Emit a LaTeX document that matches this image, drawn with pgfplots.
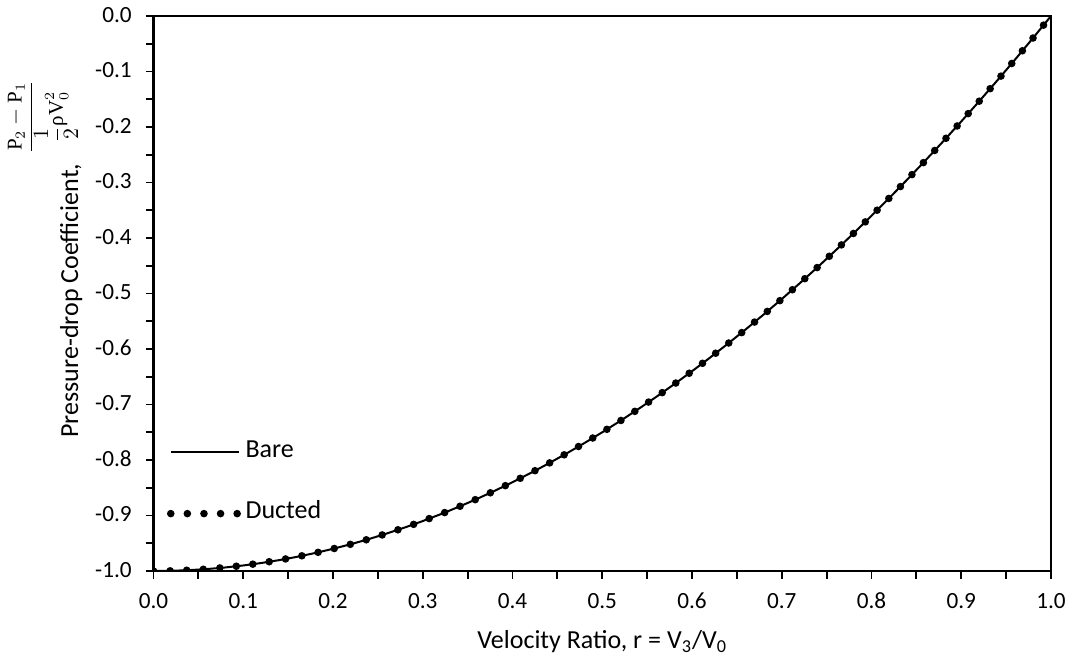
\documentclass[border=0pt]{standalone}
\usepackage{fontspec}
\setmainfont{Carlito}
\newfontfamily\eqfont{Liberation Serif}
\usepackage{amsmath}
\usepackage{pgfplots}
\pgfplotsset{compat=1.18}

% Pressure-drop coefficient against velocity ratio r = V3/V0
\pgfplotstableread{
r cp
0.00 -1.0000
0.02 -0.9996
0.04 -0.9984
0.06 -0.9964
0.08 -0.9936
0.10 -0.9900
0.12 -0.9856
0.14 -0.9804
0.16 -0.9744
0.18 -0.9676
0.20 -0.9600
0.22 -0.9516
0.24 -0.9424
0.26 -0.9324
0.28 -0.9216
0.30 -0.9100
0.32 -0.8976
0.34 -0.8844
0.36 -0.8704
0.38 -0.8556
0.40 -0.8400
0.42 -0.8236
0.44 -0.8064
0.46 -0.7884
0.48 -0.7696
0.50 -0.7500
0.52 -0.7296
0.54 -0.7084
0.56 -0.6864
0.58 -0.6636
0.60 -0.6400
0.62 -0.6156
0.64 -0.5904
0.66 -0.5644
0.68 -0.5376
0.70 -0.5100
0.72 -0.4816
0.74 -0.4524
0.76 -0.4224
0.78 -0.3916
0.80 -0.3600
0.82 -0.3276
0.84 -0.2944
0.86 -0.2604
0.88 -0.2256
0.90 -0.1900
0.92 -0.1536
0.94 -0.1164
0.96 -0.0784
0.98 -0.0396
1.00 0.0000
}\baredata

\pgfplotstableread{
r cp
0.00 -1.0000
0.02 -0.9996
0.04 -0.9984
0.06 -0.9964
0.08 -0.9936
0.10 -0.9900
0.12 -0.9856
0.14 -0.9804
0.16 -0.9744
0.18 -0.9676
0.20 -0.9600
0.22 -0.9516
0.24 -0.9424
0.26 -0.9324
0.28 -0.9216
0.30 -0.9100
0.32 -0.8976
0.34 -0.8844
0.36 -0.8704
0.38 -0.8556
0.40 -0.8400
0.42 -0.8236
0.44 -0.8064
0.46 -0.7884
0.48 -0.7696
0.50 -0.7500
0.52 -0.7296
0.54 -0.7084
0.56 -0.6864
0.58 -0.6636
0.60 -0.6400
0.62 -0.6156
0.64 -0.5904
0.66 -0.5644
0.68 -0.5376
0.70 -0.5100
0.72 -0.4816
0.74 -0.4524
0.76 -0.4224
0.78 -0.3916
0.80 -0.3600
0.82 -0.3276
0.84 -0.2944
0.86 -0.2604
0.88 -0.2256
0.90 -0.1900
0.92 -0.1536
0.94 -0.1164
0.96 -0.0784
0.98 -0.0396
1.00 0.0000
}\ducteddata

\tikzset{
  bare/.style={line width=1pt, black},
  ducted/.style={line width=3.8pt, black, line cap=round, dash pattern=on 0pt off 8.3pt},
}
\newcommand{\eq}[1]{\text{\eqfont #1}}
% the pressure-drop fraction, set so that its foot rests on the baseline
\newcommand{\cpfrac}{{\fontsize{10.5}{12.6}\selectfont
  \raisebox{\depth}{$\displaystyle\frac{\eq{P}_2-\eq{P}_1}{\dfrac{1}{2}\eq{ρ}\eq{V}_0^2}$}}}

\begin{document}
\begin{tikzpicture}[font=\fontsize{13}{15.6}\selectfont]
\path[use as bounding box] (0,0) rectangle (537.5pt,330.5pt);
\begin{axis}[
  at={(76.75pt,45pt)}, anchor=south west,
  scale only axis, width=448.75pt, height=277.5pt,
  xmin=0, xmax=1, ymin=-1, ymax=0,
  axis line style={line width=1.3pt},
  tick pos=left,
  tick align=outside,
  major tick length=3.8pt, minor tick length=3.8pt,
  every tick/.style={line width=0.9pt, black},
  minor tick num=1,
  xtick={0,0.1,0.2,0.3,0.4,0.5,0.6,0.7,0.8,0.9,1},
  xticklabels={0.0,0.1,0.2,0.3,0.4,0.5,0.6,0.7,0.8,0.9,1.0},
  ytick={-1,-0.9,-0.8,-0.7,-0.6,-0.5,-0.4,-0.3,-0.2,-0.1,0},
  yticklabels={-1.0,-0.9,-0.8,-0.7,-0.6,-0.5,-0.4,-0.3,-0.2,-0.1,0.0},
  ticklabel style={font=\fontsize{11.6}{13.9}\selectfont, inner sep=0pt,
    text height=0.64em, text depth=0pt},
  xticklabel style={anchor=north, yshift=-8.1pt},
  yticklabel style={anchor=east, xshift=-6.9pt},
  xlabel={Velocity Ratio, r = V\textsubscript{3}/V\textsubscript{0}},
  xlabel style={at={(axis description cs:0.5,-0.1405)}, anchor=base, inner sep=0pt},
  ylabel={Pressure-drop Coefficient,\, \cpfrac},
  ylabel style={at={(axis description cs:-0.0841,0.2396)}, anchor=base west, inner sep=0pt},
  legend style={draw=none, fill=none, at={(axis description cs:0.015,0.2306)}, anchor=north west,
    inner sep=0pt, outer sep=0pt, row sep=21.8pt, column sep=1.5pt,
    nodes={inner sep=0pt, text height=0.7em, text depth=0.2em}},
  legend cell align=left,
  legend image code/.code={\draw[#1] (0pt,0pt) -- (34pt,0pt);},
]
\addplot[bare] table[x=r, y=cp] {\baredata};
\addlegendentry{Bare}
\addplot[ducted] table[x=r, y=cp] {\ducteddata};
\addlegendentry{Ducted}
\end{axis}
\end{tikzpicture}
\end{document}
